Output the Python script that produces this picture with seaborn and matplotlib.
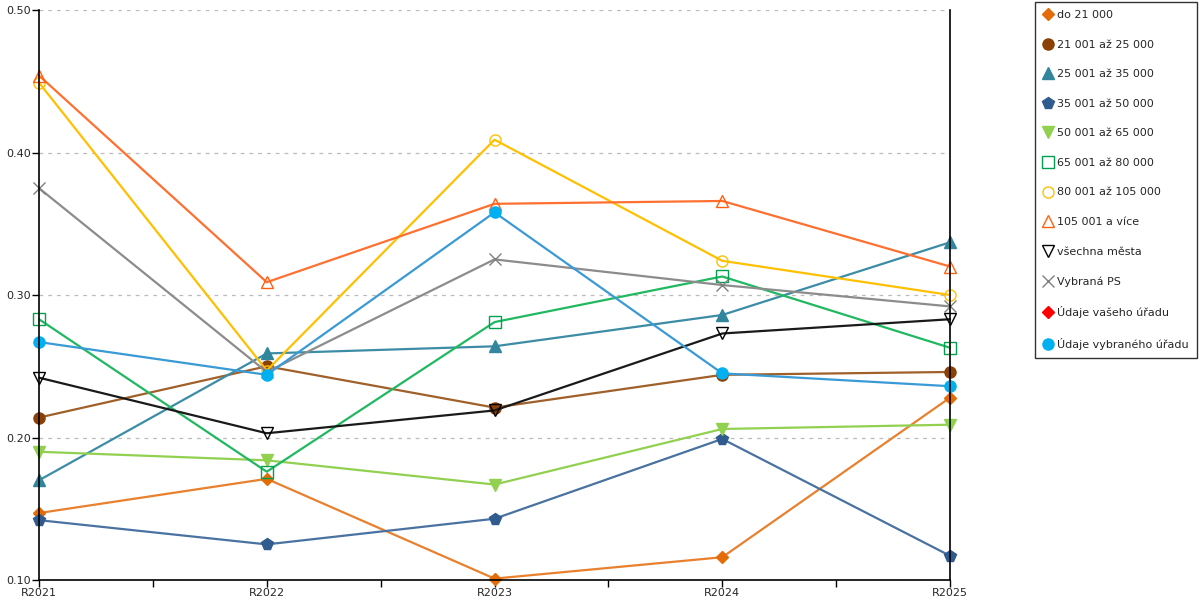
import matplotlib
matplotlib.use("Agg")
import matplotlib.pyplot as plt
from matplotlib.lines import Line2D
from matplotlib.ticker import MultipleLocator, FixedLocator, FormatStrFormatter
import seaborn as sns
import numpy as np

# --- data ---
years = ['R2021', 'R2022', 'R2023', 'R2024', 'R2025']

do_21000 = [0.147, 0.171, 0.101, 0.116, 0.228]
od_21001 = [0.214, 0.250, 0.221, 0.244, 0.246]
od_25001 = [0.170, 0.259, 0.264, 0.286, 0.337]
od_35001 = [0.142, 0.125, 0.143, 0.199, 0.117]
od_50001 = [0.190, 0.184, 0.167, 0.206, 0.209]
od_65001 = [0.283, 0.176, 0.281, 0.313, 0.263]
od_80001 = [0.449, 0.247, 0.409, 0.324, 0.300]
od_105001 = [0.454, 0.309, 0.364, 0.366, 0.320]
vsechna_mesta = [0.242, 0.203, 0.219, 0.273, 0.283]
vybrana_ps = [0.375, 0.246, 0.325, 0.307, 0.292]
vas_urad = [np.nan, np.nan, np.nan, np.nan, np.nan]
vybrany_urad = [0.267, 0.244, 0.358, 0.245, 0.236]

labels = ['do 21 000', '21 001 až 25 000', '25 001 až 35 000', '35 001 až 50 000',
          '50 001 až 65 000', '65 001 až 80 000', '80 001 až 105 000', '105 001 a více',
          'všechna města', 'Vybraná PS', 'Údaje vašeho úřadu', 'Údaje vybraného úřadu']
series = [do_21000, od_21001, od_25001, od_35001, od_50001, od_65001, od_80001,
          od_105001, vsechna_mesta, vybrana_ps, vas_urad, vybrany_urad]

# style per series: line colour, marker colour, marker, filled
styles = [
    ('#E8802E', '#E36C09', 'D', True),
    ('#A0602A', '#8B4006', 'o', True),
    ('#3C8CA5', '#31859C', '^', True),
    ('#4A72A0', '#2F5B8F', 'p', True),
    ('#92D050', '#92D050', 'v', True),
    ('#20B860', '#00A050', 's', False),
    ('#FFC000', '#FFC000', 'o', False),
    ('#FF7030', '#FF6010', '^', False),
    ('#1A1A1A', '#000000', 'v', False),
    ('#8C8C8C', '#808080', 'x', False),
    ('#FF0000', '#FF0000', 'D', True),
    ('#3A9AD6', '#00B0F0', 'o', True),
]
sizes = {'D': 6.5, 'o': 8, '^': 8, 'p': 8.5, 'v': 8.5, 's': 9, 'x': 9}

sns.set_style('white')
plt.rcParams['font.family'] = ['DejaVu Sans']

fig = plt.figure(figsize=(12, 6), dpi=100)
ax = fig.add_axes([0.0325, 0.0333, 0.7592, 0.95])

xpos = np.arange(len(years))
handles = []
for vals, lab, (lc, mc, mk, filled) in zip(series, labels, styles):
    ms = sizes[mk]
    kw = dict(marker=mk, markersize=ms, markeredgecolor=mc,
              markerfacecolor=mc if filled else 'none', markeredgewidth=1.0)
    if not np.all(np.isnan(vals)):
        sns.lineplot(x=xpos, y=vals, ax=ax, color=lc, linewidth=1.6,
                     clip_on=False, **kw)
    handles.append(Line2D([], [], linestyle='none', label=lab, **kw))

ax.set_xlim(0, 4)
ax.set_ylim(0.10, 0.50)
ax.xaxis.set_major_locator(FixedLocator(xpos))
ax.set_xticklabels(years)
ax.xaxis.set_minor_locator(MultipleLocator(0.5))
ax.yaxis.set_major_locator(MultipleLocator(0.1))
ax.yaxis.set_major_formatter(FormatStrFormatter('%.2f'))
ax.tick_params(axis='both', which='both', direction='out', length=5, width=1,
               color='black', labelsize=8, pad=1, bottom=True, left=True)
ax.tick_params(axis='x', which='minor', length=5, bottom=True)
ax.grid(axis='y', linestyle=(0, (3, 4)), color='#BBBBBB', linewidth=0.9)
for s in ['left', 'bottom', 'right']:
    ax.spines[s].set_color('black')
    ax.spines[s].set_linewidth(1.2)
ax.spines['top'].set_visible(False)
ax.set_xlabel('')
ax.set_ylabel('')

leg = fig.legend(handles=handles, loc='upper left', bbox_to_anchor=(0.8625, 0.997),
                 frameon=True, fancybox=False, edgecolor='black', fontsize=8,
                 labelspacing=1.76, handlelength=0.9, handletextpad=0.35,
                 borderpad=0.75, borderaxespad=0)
leg.get_frame().set_linewidth(1.0)

fig.savefig('out.png', dpi=100)
